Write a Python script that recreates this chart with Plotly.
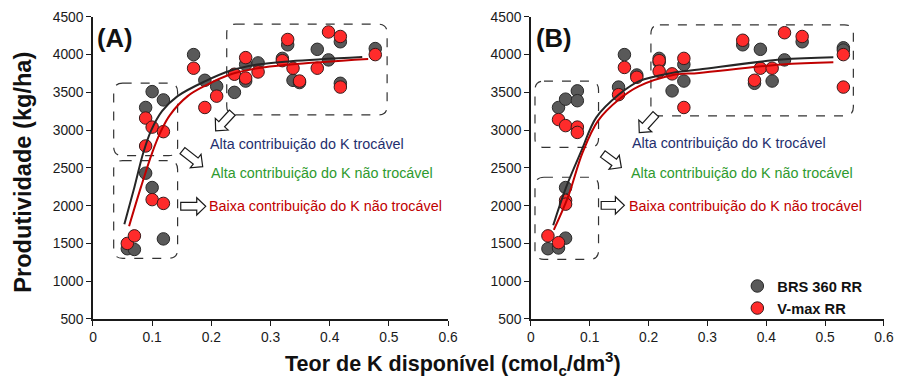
import plotly.graph_objects as go

W, H = 903, 381
FONT = "Arial, 'Liberation Sans', sans-serif"

# ---------------- data ----------------
# Panel A
a_x = [0.058, 0.070, 0.089, 0.089, 0.100, 0.100, 0.119, 0.119, 0.170, 0.189, 0.209, 0.239,
       0.258, 0.258, 0.279, 0.320, 0.329, 0.338, 0.349, 0.379, 0.398, 0.418, 0.418, 0.477]
a_brs = [1430, 1420, 3300, 2430, 3510, 2240, 3400, 1560, 4000, 3660, 3580, 3500,
         3870, 3650, 3890, 3950, 4130, 3660, 3630, 4070, 3930, 4170, 3620, 4080]
a_vmax = [1500, 1600, 3160, 2790, 3040, 2080, 2980, 2030, 3820, 3300, 3450, 3740,
          3960, 3690, 3770, 3920, 4200, 3820, 3650, 3820, 4300, 4240, 3570, 4000]

# Panel B
b_x = [0.029, 0.047, 0.047, 0.059, 0.059, 0.059, 0.079, 0.079, 0.149, 0.159, 0.180, 0.218,
       0.218, 0.240, 0.260, 0.260, 0.360, 0.380, 0.390, 0.410, 0.431, 0.461, 0.531, 0.531]
b_brs = [1430, 1440, 3300, 1570, 2240, 3410, 3520, 3390, 3570, 4000, 3730, 3950,
         3900, 3520, 3870, 3650, 4130, 3620, 4070, 3650, 3930, 4170, 4090, 4060]
b_vmax = [1600, 1510, 3140, 2070, 2020, 3060, 3040, 2970, 3470, 3830, 3700, 3920,
          3780, 3745, 3950, 3300, 4190, 3660, 3820, 3820, 4290, 4240, 4000, 3570]

# Fitted curves
a_fit_brs_x = [0.053, 0.070, 0.085, 0.098, 0.117, 0.143, 0.190, 0.233, 0.278, 0.334, 0.455]
a_fit_brs_y = [1754, 2245, 2700, 2990, 3254, 3450, 3649, 3789, 3868, 3912, 3968]
a_fit_vmax_x = [0.061, 0.081, 0.100, 0.115, 0.130, 0.160, 0.190, 0.233, 0.278, 0.334, 0.465]
a_fit_vmax_y = [1728, 2245, 2700, 2990, 3200, 3450, 3590, 3740, 3820, 3870, 3942]

b_fit_brs_x = [0.038, 0.060, 0.086, 0.111, 0.150, 0.184, 0.240, 0.286, 0.426, 0.514]
b_fit_brs_y = [1740, 2245, 2728, 3166, 3474, 3649, 3758, 3802, 3934, 3964]
b_fit_vmax_x = [0.039, 0.063, 0.088, 0.114, 0.150, 0.184, 0.240, 0.286, 0.426, 0.514]
b_fit_vmax_y = [1680, 2113, 2705, 3122, 3408, 3583, 3727, 3758, 3868, 3898]

series_names = ["BRS 360 RR", "V-max RR"]
panel_labels = ["(A)", "(B)"]
notes = ["Alta contribuição do K trocável",
         "Alta contribuição do K não trocável",
         "Baixa contribuição do K não trocável"]
note_colors = ["#1f2f6e", "#2e9a2e", "#c00000"]

# dashed groups (x0, x1, y0, y1) in data units
a_boxes = [(0.035, 0.143, 2662, 3622), (0.035, 0.143, 1303, 2596), (0.226, 0.497, 3201, 4403)]
b_boxes = [(0.007, 0.115, 2771, 3649), (0.007, 0.115, 1289, 2376), (0.204, 0.548, 3188, 4395)]
# arrows (tail x, tail y, tip x, tip y) in data units
a_arrows = [(0.2355, 3232, 0.2073, 2991), (0.1512, 2728, 0.1854, 2517), (0.1483, 1991, 0.1905, 1991)]
b_arrows = [(0.2124, 3211, 0.1842, 2968), (0.1222, 2684, 0.1538, 2504), (0.1195, 2004, 0.1589, 2004)]
# note text anchors (left x, y) in data units
a_notes = [(0.1947, 2820), (0.196, 2438), (0.193, 1991)]
b_notes = [(0.1685, 2826), (0.167, 2432), (0.164, 1997)]

X_RANGE = [0, 0.6]
Y_RANGE = [500, 4500]

# ---------------- layout geometry ----------------
# target positions in picture pixels; the photographed page comes out slightly
# scaled, so positions are mapped back through that measured scaling.
SX, CX = 0.987, 2.8
SY, CY = 0.964, 6.4
FS = 1 / 0.975  # font compensation

A_PX = (92, 448)
B_PX = (531, 885)
Y_PX = (319.3, 15.3)  # bottom, top


def paper(px, py):
    dx = (px - CX) / SX
    dy = (py - CY) / SY
    return dx / W, 1 - dy / H


dom_a = [paper(A_PX[0], 0)[0], paper(A_PX[1], 0)[0]]
dom_b = [paper(B_PX[0], 0)[0], paper(B_PX[1], 0)[0]]
dom_y = [paper(0, Y_PX[0])[1], paper(0, Y_PX[1])[1]]


def to_px(xpx, x, y):
    px = xpx[0] + (x - X_RANGE[0]) / (X_RANGE[1] - X_RANGE[0]) * (xpx[1] - xpx[0])
    py = Y_PX[0] + (y - Y_RANGE[0]) / (Y_RANGE[1] - Y_RANGE[0]) * (Y_PX[1] - Y_PX[0])
    return px, py


def P(px, py):
    u, v = paper(px, py)
    return f"{u:.5f},{v:.5f}"


def rounded_box(xpx, b, r=9):
    x0, y0 = to_px(xpx, b[0], b[3])
    x1, y1 = to_px(xpx, b[1], b[2])
    d = (f"M {P(x0 + r, y0)} L {P(x1 - r, y0)} Q {P(x1, y0)} {P(x1, y0 + r)} "
         f"L {P(x1, y1 - r)} Q {P(x1, y1)} {P(x1 - r, y1)} "
         f"L {P(x0 + r, y1)} Q {P(x0, y1)} {P(x0, y1 - r)} "
         f"L {P(x0, y0 + r)} Q {P(x0, y0)} {P(x0 + r, y0)} Z")
    return dict(type="path", xref="paper", yref="paper", path=d,
                line=dict(color="#333333", width=1.2, dash="dash"),
                fillcolor="rgba(0,0,0,0)", layer="below")


def block_arrow(xpx, a, sw=3.9, hw=8.7, hl=9):
    tx, ty = to_px(xpx, a[0], a[1])
    hx, hy = to_px(xpx, a[2], a[3])
    dx, dy = hx - tx, hy - ty
    L = (dx * dx + dy * dy) ** 0.5
    ux, uy = dx / L, dy / L
    nx, ny = -uy, ux
    nkx, nky = hx - ux * hl, hy - uy * hl
    poly = [(tx + nx * sw, ty + ny * sw), (nkx + nx * sw, nky + ny * sw),
            (nkx + nx * hw, nky + ny * hw), (hx, hy),
            (nkx - nx * hw, nky - ny * hw), (nkx - nx * sw, nky - ny * sw),
            (tx - nx * sw, ty - ny * sw)]
    d = "M " + " L ".join(P(*p) for p in poly) + " Z"
    return dict(type="path", xref="paper", yref="paper", path=d,
                line=dict(color="#1a1a1a", width=1.2), fillcolor="white")


fig = go.Figure()

GRAY = "#595959"
RED = "#ff2b2b"


def add_panel(xs, brs, vmax, fbx, fby, fvx, fvy, xa, ya, legend):
    fig.add_trace(go.Scatter(x=xs, y=brs, mode="markers", name=series_names[0],
                             marker=dict(size=12.5, color=GRAY, line=dict(color="#2a2a2a", width=1)),
                             xaxis=xa, yaxis=ya, showlegend=legend))
    fig.add_trace(go.Scatter(x=xs, y=vmax, mode="markers", name=series_names[1],
                             marker=dict(size=12.5, color=RED, line=dict(color="#3a1a1a", width=1)),
                             xaxis=xa, yaxis=ya, showlegend=legend))
    fig.add_trace(go.Scatter(x=fbx, y=fby, mode="lines", line=dict(color="#262626", width=2, shape="spline"),
                             xaxis=xa, yaxis=ya, showlegend=False, hoverinfo="skip"))
    fig.add_trace(go.Scatter(x=fvx, y=fvy, mode="lines", line=dict(color="#c00000", width=2, shape="spline"),
                             xaxis=xa, yaxis=ya, showlegend=False, hoverinfo="skip"))


add_panel(a_x, a_brs, a_vmax, a_fit_brs_x, a_fit_brs_y, a_fit_vmax_x, a_fit_vmax_y, "x", "y", True)
add_panel(b_x, b_brs, b_vmax, b_fit_brs_x, b_fit_brs_y, b_fit_vmax_x, b_fit_vmax_y, "x2", "y2", False)

axis_common = dict(showline=True, linecolor="#1a1a1a", linewidth=1.5, ticks="outside",
                   ticklen=5, tickwidth=1.2, tickcolor="#1a1a1a", showgrid=False, zeroline=False,
                   ticklabeloverflow="allow",
                   tickfont=dict(family=FONT, size=13.5 * FS, color="#1a1a1a"))

shapes = [rounded_box(A_PX, b) for b in a_boxes] + [rounded_box(B_PX, b) for b in b_boxes]
shapes += [block_arrow(A_PX, a) for a in a_arrows] + [block_arrow(B_PX, a) for a in b_arrows]

annotations = []
for (nx_, ny_), t, c in zip(a_notes, notes, note_colors):
    annotations.append(dict(x=nx_, y=ny_, xref="x", yref="y", text=t, showarrow=False,
                            xanchor="left", yanchor="middle",
                            font=dict(family=FONT, size=14 * FS, color=c)))
for (nx_, ny_), t, c in zip(b_notes, notes, note_colors):
    annotations.append(dict(x=nx_, y=ny_, xref="x2", yref="y2", text=t, showarrow=False,
                            xanchor="left", yanchor="middle",
                            font=dict(family=FONT, size=14 * FS, color=c)))

for lab, (px, py) in zip(panel_labels, [(114, 37), (554, 37)]):
    u, v = paper(px, py)
    annotations.append(dict(x=u, y=v, xref="paper", yref="paper", text=f"<b>{lab}</b>",
                            showarrow=False, xanchor="center", yanchor="middle",
                            font=dict(family=FONT, size=25 * FS, color="#111111")))

u, v = paper(453, 364)
annotations.append(dict(x=u, y=v, xref="paper", yref="paper",
                        text="<b>Teor de K disponível (cmol<sub>c</sub>/dm<sup>3</sup>)</b>",
                        showarrow=False, xanchor="center", yanchor="middle",
                        font=dict(family=FONT, size=21 * FS, color="#111111")))
u, v = paper(21, 172)
annotations.append(dict(x=u, y=v, xref="paper", yref="paper", text="<b>Produtividade (kg/ha)</b>",
                        showarrow=False, xanchor="center", yanchor="middle", textangle=-90,
                        font=dict(family=FONT, size=23 * FS, color="#111111")))

lx, ly = paper(738, 270)
fig.update_layout(
    width=W, height=H, margin=dict(l=0, r=0, t=0, b=0),
    paper_bgcolor="white", plot_bgcolor="white",
    xaxis=dict(domain=dom_a, range=X_RANGE, dtick=0.1, anchor="y", **axis_common),
    yaxis=dict(domain=dom_y, range=Y_RANGE, dtick=500, anchor="x", **axis_common),
    xaxis2=dict(domain=dom_b, range=X_RANGE, dtick=0.1, anchor="y2", **axis_common),
    yaxis2=dict(domain=dom_y, range=Y_RANGE, dtick=500, anchor="x2", **axis_common),
    shapes=shapes, annotations=annotations,
    legend=dict(x=lx, y=ly, xanchor="left", yanchor="top", bgcolor="rgba(0,0,0,0)",
                font=dict(family=FONT, size=14.3 * FS, color="#111111", weight="bold"),
                tracegroupgap=0, itemwidth=30),
    showlegend=True,
)

fig.write_html("out.html")
